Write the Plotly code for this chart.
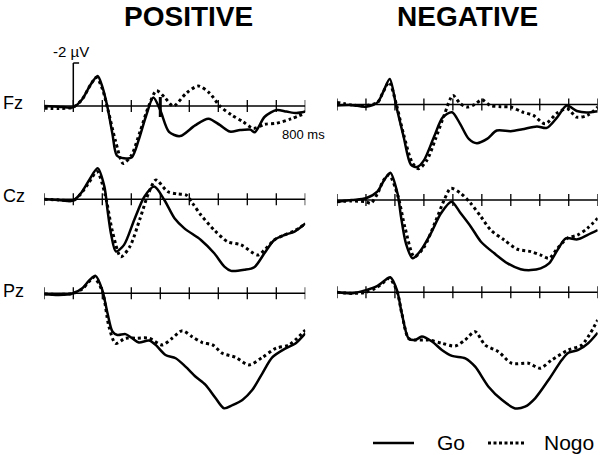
import plotly.graph_objects as go

W, H = 600, 455
FONT = "Liberation Sans, Arial, sans-serif"

# ---------------- data (time in ms, amplitude in µV; negative plotted up) ----------------
TICKS_MS = [-100, 0, 100, 200, 300, 400, 500, 600, 700, 800]
CHANNELS = ["Fz", "Cz", "Pz"]
CONDITIONS = ["POSITIVE", "NEGATIVE"]

# POSITIVE / Fz
FZ_POS_GO_T = [-100, -50, 0, 30, 60, 84, 100, 117, 135, 150, 175, 201, 225, 250, 276, 300, 330, 368, 420, 466, 505, 540, 575, 610, 626, 660, 701, 735, 770, 800]
FZ_POS_GO_V = [0.0, 0.03, 0.06, -0.3, -1.0, -1.4, -0.9, 0.0, 1.3, 2.3, 2.43, 2.4, 1.6, 0.5, -0.39, 0.2, 1.2, 1.4, 0.9, 0.59, 0.88, 1.19, 1.12, 1.1, 1.22, 0.5, 0.19, 0.26, 0.33, 0.26]
FZ_POS_NOGO_T = [-100, -50, 0, 30, 60, 80, 100, 120, 145, 172, 200, 230, 260, 287, 315, 345, 390, 431, 470, 505, 546, 585, 621, 660, 701, 750, 800]
FZ_POS_NOGO_V = [0.1, 0.12, 0.05, -0.3, -1.0, -1.33, -0.8, 0.2, 1.6, 2.67, 2.3, 1.2, 0.0, -0.71, -0.4, 0.0, -0.6, -0.93, -0.6, 0.0, 0.42, 0.73, 1.04, 0.85, 0.8, 0.6, 0.34]

# NEGATIVE / Fz
FZ_NEG_GO_T = [-100, -50, 0, 40, 60, 82, 105, 130, 155, 176, 200, 235, 265, 297, 325, 355, 383, 418, 452, 500, 540, 590, 624, 660, 693, 728, 762, 800]
FZ_NEG_GO_V = [0.05, 0.03, 0.1, -0.1, -0.6, -1.19, 0.1, 1.5, 2.8, 2.91, 2.6, 1.5, 0.6, 0.36, 0.9, 1.6, 1.8, 1.6, 1.21, 1.24, 1.15, 1.02, 1.09, 0.6, 0.05, 0.3, 0.37, 0.31]
FZ_NEG_NOGO_T = [-100, -50, 0, 40, 60, 80, 105, 130, 160, 182, 210, 240, 270, 300, 325, 348, 375, 400, 430, 465, 500, 540, 578, 618, 660, 695, 728, 765, 800]
FZ_NEG_NOGO_V = [-0.1, 0.02, 0.05, -0.1, -0.6, -1.04, 0.0, 1.4, 2.7, 2.99, 2.6, 1.6, 0.5, -0.42, -0.05, 0.12, 0.0, -0.22, 0.05, 0.1, 0.12, 0.35, 0.51, 0.9, 0.4, 0.2, 0.59, 0.5, 0.12]

# POSITIVE / Cz
CZ_POS_GO_T = [-100, -50, 0, 26, 55, 84, 107, 118, 130, 147, 175, 210, 245, 279, 314, 349, 383, 440, 486, 521, 544, 590, 624, 659, 693, 728, 763, 800]
CZ_POS_GO_V = [0.0, 0.03, 0.06, -0.28, -0.9, -1.44, -0.6, 0.5, 1.6, 2.43, 2.12, 0.96, -0.12, -0.59, 0.03, 0.88, 1.35, 1.89, 2.51, 3.13, 3.33, 3.28, 3.16, 2.51, 1.89, 1.66, 1.5, 1.12]
CZ_POS_NOGO_T = [-100, -50, 0, 26, 55, 82, 110, 135, 164, 195, 230, 260, 285, 325, 360, 389, 412, 440, 486, 532, 578, 636, 659, 693, 728, 763, 800]
CZ_POS_NOGO_V = [0.0, 0.03, 0.05, -0.25, -0.8, -1.29, -0.2, 1.5, 2.67, 2.2, 0.9, -0.3, -0.9, -0.36, -0.25, -0.2, 0.2, 0.73, 1.43, 1.97, 2.12, 2.59, 2.36, 1.89, 1.66, 1.46, 1.15]

# NEGATIVE / Cz
CZ_NEG_GO_T = [-100, -50, 0, 40, 63, 84, 109, 121, 138, 161, 190, 224, 259, 295, 327, 362, 397, 443, 489, 534, 569, 603, 632, 661, 690, 730, 764, 800]
CZ_NEG_GO_V = [0.08, 0.0, -0.08, -0.4, -0.93, -1.27, -0.3, 0.78, 2.02, 2.71, 2.33, 1.55, 0.62, 0.08, 0.62, 1.24, 1.94, 2.48, 2.95, 3.22, 3.26, 3.18, 2.95, 2.33, 1.78, 1.83, 1.63, 1.4]
CZ_NEG_NOGO_T = [-100, -50, 0, 17, 40, 60, 80, 110, 135, 167, 200, 240, 270, 293, 327, 362, 397, 431, 477, 523, 569, 603, 632, 661, 695, 730, 764, 800]
CZ_NEG_NOGO_V = [0.08, 0.05, 0.08, 0.15, -0.3, -0.9, -1.16, -0.2, 1.3, 2.64, 2.2, 1.0, 0.0, -0.54, -0.31, 0.16, 0.78, 1.4, 1.86, 2.29, 2.4, 2.56, 2.71, 2.25, 1.78, 1.63, 1.32, 0.85]

# POSITIVE / Pz
PZ_POS_GO_T = [-100, -50, 0, 31, 55, 77, 100, 118, 135, 152, 180, 203, 226, 261, 284, 318, 353, 387, 422, 456, 491, 520, 549, 583, 617, 652, 686, 732, 766, 800]
PZ_POS_GO_V = [0.03, 0.08, 0.0, -0.23, -0.6, -0.81, -0.15, 0.93, 1.78, 1.94, 1.9, 2.09, 2.29, 2.2, 2.4, 2.87, 3.02, 3.41, 3.88, 4.26, 4.88, 5.35, 5.2, 4.96, 4.5, 3.72, 2.98, 2.56, 2.33, 1.86]
PZ_POS_NOGO_T = [-100, -50, 0, 31, 55, 71, 100, 123, 146, 180, 215, 261, 307, 341, 376, 410, 445, 480, 514, 560, 606, 652, 698, 744, 800]
PZ_POS_NOGO_V = [0.03, 0.05, 0.0, -0.2, -0.55, -0.74, -0.1, 1.55, 2.33, 2.09, 2.09, 2.09, 2.4, 2.09, 1.74, 2.02, 2.29, 2.4, 2.79, 2.98, 3.33, 2.98, 2.56, 2.4, 1.71]

# NEGATIVE / Pz
PZ_NEG_GO_T = [-100, -50, 0, 40, 60, 84, 107, 124, 147, 170, 193, 228, 262, 297, 343, 377, 423, 469, 515, 549, 584, 630, 676, 699, 733, 767, 800]
PZ_NEG_GO_V = [0.0, 0.05, -0.1, -0.3, -0.5, -0.7, -0.1, 1.0, 2.14, 2.22, 2.06, 2.29, 2.68, 2.96, 3.07, 3.46, 4.39, 5.0, 5.4, 5.32, 4.93, 4.08, 3.15, 2.81, 2.68, 2.37, 1.88]
PZ_NEG_NOGO_T = [-100, -50, 0, 40, 60, 81, 107, 124, 147, 170, 216, 262, 308, 342, 377, 411, 457, 503, 561, 601, 641, 699, 745, 800]
PZ_NEG_NOGO_V = [0.0, 0.05, 0.0, -0.25, -0.45, -0.65, -0.05, 1.0, 2.14, 2.22, 2.22, 2.37, 2.5, 2.22, 1.83, 2.45, 2.76, 3.3, 3.3, 3.53, 3.15, 2.68, 2.45, 1.29]

SERIES = {
    ("POSITIVE", "Fz"): (FZ_POS_GO_T, FZ_POS_GO_V, FZ_POS_NOGO_T, FZ_POS_NOGO_V),
    ("NEGATIVE", "Fz"): (FZ_NEG_GO_T, FZ_NEG_GO_V, FZ_NEG_NOGO_T, FZ_NEG_NOGO_V),
    ("POSITIVE", "Cz"): (CZ_POS_GO_T, CZ_POS_GO_V, CZ_POS_NOGO_T, CZ_POS_NOGO_V),
    ("NEGATIVE", "Cz"): (CZ_NEG_GO_T, CZ_NEG_GO_V, CZ_NEG_NOGO_T, CZ_NEG_NOGO_V),
    ("POSITIVE", "Pz"): (PZ_POS_GO_T, PZ_POS_GO_V, PZ_POS_NOGO_T, PZ_POS_NOGO_V),
    ("NEGATIVE", "Pz"): (PZ_NEG_GO_T, PZ_NEG_GO_V, PZ_NEG_NOGO_T, PZ_NEG_NOGO_V),
}

CAL_UV = -2          # calibration bar amplitude
CAL_LABEL = "-2 µV"
TIME_LABEL = "800 ms"
MARK_MS = 300        # emphasized tick in POSITIVE/Fz

# ---------------- layout geometry (page pixels) ----------------
PX_PER_UV = 21.5
COL_X = {"POSITIVE": (44.3, 305.3), "NEGATIVE": (337.0, 597.7)}   # -100 .. 800 ms
BASE_Y = {("POSITIVE", "Fz"): 106, ("POSITIVE", "Cz"): 199.3, ("POSITIVE", "Pz"): 293.3,
          ("NEGATIVE", "Fz"): 104.5, ("NEGATIVE", "Cz"): 200, ("NEGATIVE", "Pz"): 292.3}
TOP_PAD, BOT_PAD = 50, 128


def fx(x):
    return x / W


def fy(y):
    return 1 - y / H


fig = go.Figure()
layout_axes = {}
shapes = []
k = 0
for cond in CONDITIONS:
    for ch in CHANNELS:
        k += 1
        xa = "xaxis" if k == 1 else f"xaxis{k}"
        ya = "yaxis" if k == 1 else f"yaxis{k}"
        xr = "x" if k == 1 else f"x{k}"
        yr = "y" if k == 1 else f"y{k}"
        base = BASE_Y[(cond, ch)]
        top = base - TOP_PAD
        bot = min(base + BOT_PAD, H)
        x0, x1 = COL_X[cond]
        layout_axes[xa] = dict(domain=[fx(x0), min(fx(x1), 1)], range=[-100, 800], visible=False,
                               anchor=yr, fixedrange=True)
        layout_axes[ya] = dict(domain=[fy(bot), fy(top)],
                               range=[(bot - base) / PX_PER_UV, (top - base) / PX_PER_UV],
                               visible=False, anchor=xr, fixedrange=True)
        gt, gv, nt, nv = SERIES[(cond, ch)]
        fig.add_trace(go.Scatter(x=nt, y=nv, xaxis=xr, yaxis=yr, mode="lines", cliponaxis=False,
                                 line=dict(color="black", width=3, dash="3px,3px", shape="spline",
                                           smoothing=0.8),
                                 showlegend=False, hoverinfo="skip"))
        fig.add_trace(go.Scatter(x=gt, y=gv, xaxis=xr, yaxis=yr, mode="lines", cliponaxis=False,
                                 line=dict(color="black", width=2.5, shape="spline", smoothing=0.8),
                                 showlegend=False, hoverinfo="skip"))
        # baseline (time axis)
        shapes.append(dict(type="line", xref=xr, yref=yr, x0=TICKS_MS[0], x1=TICKS_MS[-1],
                           y0=0, y1=0, line=dict(color="black", width=1.5)))
        tick_h = 6 / PX_PER_UV
        for t in TICKS_MS:
            shapes.append(dict(type="line", xref=xr, yref=yr, x0=t, x1=t,
                               y0=-tick_h, y1=tick_h, line=dict(color="black", width=1.3)))
        if cond == "POSITIVE" and ch == "Fz":
            shapes.append(dict(type="line", xref=xr, yref=yr, x0=MARK_MS, x1=MARK_MS,
                               y0=-9 / PX_PER_UV, y1=11 / PX_PER_UV,
                               line=dict(color="black", width=3)))
            # calibration bar
            shapes.append(dict(type="line", xref=xr, yref=yr, x0=0, x1=0, y0=0, y1=CAL_UV,
                               line=dict(color="black", width=1.5)))
            shapes.append(dict(type="line", xref=xr, yref=yr, x0=0, x1=20, y0=CAL_UV, y1=CAL_UV,
                               line=dict(color="black", width=1.5)))

annotations = []
# column titles
for cond, cx in (("POSITIVE", 188), ("NEGATIVE", 467)):
    annotations.append(dict(text=f"<b>{cond}</b>", x=fx(cx), y=1, xref="paper", yref="paper",
                            xanchor="center", yanchor="top", showarrow=False, borderpad=0,
                            font=dict(family=FONT, size=28, color="black")))
# channel labels
for ch, cy in (("Fz", 103), ("Cz", 196), ("Pz", 291)):
    annotations.append(dict(text=ch, x=fx(1), y=fy(cy), xref="paper", yref="paper",
                            xanchor="left", yanchor="middle", showarrow=False,
                            font=dict(family=FONT, size=18, color="black")))
annotations.append(dict(text=CAL_LABEL, x=fx(71), y=fy(51), xref="paper", yref="paper",
                        xanchor="center", yanchor="middle", showarrow=False,
                        font=dict(family=FONT, size=15, color="black")))
annotations.append(dict(text=TIME_LABEL, x=fx(303), y=fy(134), xref="paper", yref="paper",
                        xanchor="center", yanchor="middle", showarrow=False,
                        font=dict(family=FONT, size=13, color="black")))
# legend
annotations.append(dict(text="Go", x=fx(435), y=fy(442), xref="paper", yref="paper",
                        xanchor="left", yanchor="middle", showarrow=False,
                        font=dict(family=FONT, size=21, color="black")))
annotations.append(dict(text="Nogo", x=fx(542), y=fy(442), xref="paper", yref="paper",
                        xanchor="left", yanchor="middle", showarrow=False,
                        font=dict(family=FONT, size=21, color="black")))
shapes.append(dict(type="line", xref="paper", yref="paper", x0=fx(373), x1=fx(414),
                   y0=fy(443), y1=fy(443), line=dict(color="black", width=2.5)))
shapes.append(dict(type="line", xref="paper", yref="paper", x0=fx(488), x1=fx(524),
                   y0=fy(443), y1=fy(443), line=dict(color="black", width=3, dash="3px,2.5px")))

fig.update_layout(width=W, height=H, margin=dict(l=0, r=0, t=0, b=0),
                  paper_bgcolor="white", plot_bgcolor="rgba(0,0,0,0)",
                  shapes=shapes, annotations=annotations, showlegend=False,
                  **layout_axes)

fig.write_html("out.html", config={"displayModeBar": False},
               post_script="document.body.style.margin='0';document.body.style.overflow='hidden';")
